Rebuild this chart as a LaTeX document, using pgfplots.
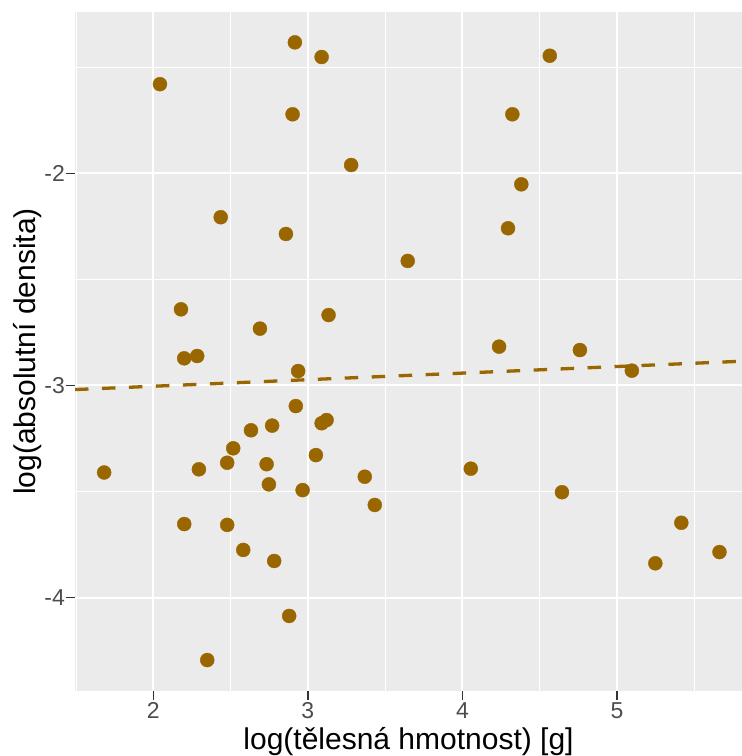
\documentclass[border=0pt]{standalone}
\usepackage{fontspec}
\setmainfont{Liberation Sans}
\usepackage{pgfplots}
\pgfplotsset{compat=1.18}
\usepackage{pgfplotstable}

\definecolor{panelbg}{HTML}{EBEBEB}
\definecolor{pointcol}{HTML}{996600}
\definecolor{ticktext}{HTML}{4D4D4D}
\definecolor{tickmark}{HTML}{333333}

% log body mass vs log absolute density
\pgfplotstableread{
x y
1.682 -3.410
2.043 -1.580
2.916 -1.383
3.089 -1.452
2.901 -1.722
3.280 -1.961
2.436 -2.207
2.858 -2.286
2.179 -2.641
3.134 -2.668
2.690 -2.732
2.200 -2.872
2.284 -2.861
2.937 -2.932
4.565 -1.446
4.323 -1.722
4.381 -2.052
4.295 -2.259
3.646 -2.413
4.237 -2.817
4.760 -2.833
5.096 -2.930
2.922 -3.097
2.632 -3.211
2.769 -3.189
3.089 -3.178
3.121 -3.163
2.517 -3.296
2.478 -3.364
2.733 -3.371
3.052 -3.328
2.295 -3.395
2.748 -3.466
2.966 -3.493
3.368 -3.430
3.433 -3.563
2.200 -3.653
2.478 -3.657
2.582 -3.775
2.782 -3.827
2.879 -4.086
2.349 -4.294
4.054 -3.392
4.644 -3.503
5.416 -3.647
5.248 -3.838
5.663 -3.785
}\densitydata

\begin{document}
\begin{tikzpicture}
\fill[white] (0,0) rectangle (742bp,756bp);
\begin{axis}[
  at={(75bp,65bp)}, anchor=south west,
  scale only axis,
  width=667bp, height=679bp,
  xmin=1.4934, xmax=5.8087,
  ymin=-4.4397, ymax=-1.2399,
  axis line style={draw=none},
  axis background/.style={fill=panelbg},
  xtick={2,3,4,5},
  ytick={-4,-3,-2},
  minor xtick={1.5,2.5,3.5,4.5,5.5},
  minor ytick={-3.5,-2.5,-1.5},
  grid=both,
  major grid style={white, line width=2bp},
  minor grid style={white, line width=1bp},
  tick align=outside,
  major tick length=9bp,
  minor tick length=0pt,
  tick style={tickmark, line width=1.5bp},
  xtick pos=bottom, ytick pos=left,
  /pgf/number format/assume math mode=true,
  tick label style={font=\fontsize{23bp}{27bp}\selectfont, text=ticktext, inner sep=0pt},
  xticklabel style={anchor=base, yshift=-18bp},
  yticklabel style={anchor=east, xshift=-1bp},
  xlabel={log(tělesná hmotnost) [g]},
  ylabel={log(absolutní densita)},
  label style={font=\fontsize{30bp}{36bp}\selectfont, text=black, inner sep=0pt},
  xlabel style={at={(axis description cs:0.5,-0.08689)}, anchor=base},
  ylabel style={at={(axis description cs:-0.05997,0.5)}, anchor=base},
  clip=true,
]
\addplot[only marks, color=pointcol, mark=*, mark size=7bp,
  mark options={fill=pointcol, draw=none}]
  table[x=x, y=y] {\densitydata};
\addplot[pointcol, line width=3.3bp, dash pattern=on 13.5bp off 13.5bp]
  coordinates {(1.4934,-3.0193) (5.8087,-2.8856)};
\end{axis}
\pgfresetboundingbox
\path[use as bounding box] (0,0) rectangle (742bp,756bp);
\end{tikzpicture}
\end{document}
